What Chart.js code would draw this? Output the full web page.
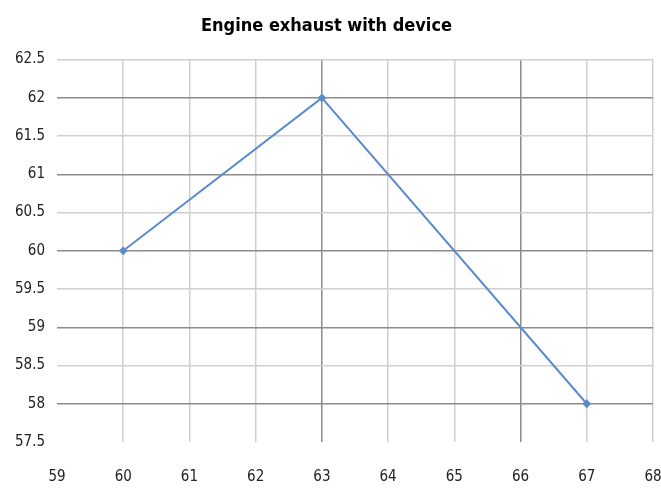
<!DOCTYPE html>
<html>
<head>
<meta charset="utf-8">
<script src="https://cdn.jsdelivr.net/npm/chart.js@4/dist/chart.umd.min.js"></script>
<style>
  html, body { margin: 0; padding: 0; background: #fff; }
  #wrap { width: 661px; height: 489px; }
</style>
</head>
<body>
<div id="wrap"><canvas id="chart" width="661" height="489"></canvas></div>
<script>
// ===== DATA =====
const speed = [60, 63, 67];
const exhaust = [60, 62, 58];
const xRange = [59, 68];
const yRange = [57.5, 62.5];

const points = speed.map((x, i) => ({ x, y: exhaust[i] }));
const FONT = "'Liberation Sans Narrow', 'DejaVu Sans Condensed', 'Liberation Sans', sans-serif";

new Chart(document.getElementById('chart'), {
    type: 'line',
    data: {
        datasets: [{
            label: 'Engine exhaust with device',
            data: points,
            borderColor: '#5b8bcc',
            backgroundColor: '#5b8bcc',
            borderWidth: 2,
            pointStyle: 'rectRot',
            pointRadius: 3,
            tension: 0,
            fill: false
        }]
    },
    options: {
        responsive: false,
        animation: false,
        layout: { padding: { left: 0, right: 8, top: 0, bottom: 0 } },
        plugins: {
            legend: { display: false },
            tooltip: { enabled: false },
            title: {
                display: true,
                text: 'Engine exhaust with device',
                color: '#000',
                font: { family: FONT, size: 18, weight: 'bold' },
                padding: { top: 16, bottom: 22 }
            }
        },
        scales: {
            x: {
                type: 'linear',
                min: xRange[0], max: xRange[1],
                border: { display: false },
                grid: {
                    drawTicks: false,
                    color: ctx => (ctx.tick && (ctx.tick.value === 63 || ctx.tick.value === 66)) ? '#8c8c8c' : '#cfcfcf',
                    lineWidth: ctx => (ctx.tick && ctx.tick.value === xRange[0]) ? 0 : 1.5
                },
                ticks: {
                    stepSize: 1,
                    padding: 26,
                    color: '#222',
                    font: { family: FONT, size: 15 },
                    callback: v => String(v)
                },
                afterFit: s => { s.height = 47; s.paddingLeft = 0; s.paddingRight = 0; }
            },
            y: {
                type: 'linear',
                min: yRange[0], max: yRange[1],
                border: { display: false },
                grid: {
                    drawTicks: false,
                    color: ctx => (ctx.tick && Number.isInteger(ctx.tick.value)) ? '#8c8c8c' : '#cfcfcf',
                    lineWidth: ctx => (ctx.tick && ctx.tick.value === yRange[0]) ? 0 : 1.5
                },
                ticks: {
                    stepSize: 0.5,
                    padding: 12,
                    color: '#222',
                    font: { family: FONT, size: 15 },
                    callback: v => String(v)
                },
                afterFit: s => { s.width = 57; }
            }
        }
    }
});
</script>
</body>
</html>
